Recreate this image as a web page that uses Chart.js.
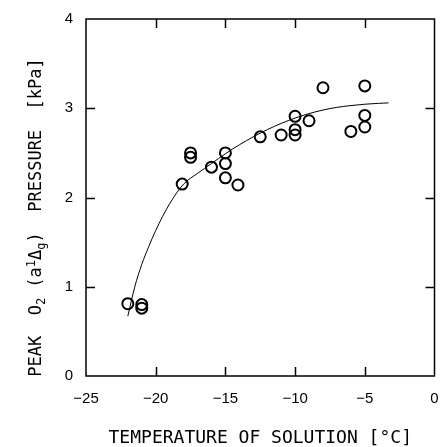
<!DOCTYPE html>
<html><head><meta charset="utf-8">
<script src="https://cdn.jsdelivr.net/npm/chart.js@4/dist/chart.umd.min.js"></script>
<style>html,body{margin:0;padding:0;background:#fff}</style>
</head><body>
<canvas id="c" width="442" height="447"></canvas>
<script>
// Measured points: temperature of solution [°C] and peak O2(a1Δg) pressure [kPa]
const temperature = [-22.0, -21.0, -21.0, -18.1, -17.5, -17.5, -16.0, -15.0, -15.0, -15.0, -14.1, -12.5, -11.0, -10.0, -10.0, -10.0, -9.0, -8.0, -6.0, -5.0, -5.0, -5.0];
const pressure    = [0.81, 0.80, 0.76, 2.15, 2.50, 2.45, 2.34, 2.50, 2.38, 2.22, 2.14, 2.68, 2.70, 2.91, 2.76, 2.70, 2.86, 3.23, 2.74, 3.25, 2.92, 2.79];
// Fitted curve
const fitTemperature = [-22, -21.5, -21, -20.5, -20, -19, -18, -17, -16, -15, -14, -13, -12, -11, -10, -9, -8, -7, -6, -5, -4, -3.3];
const fitPressure    = [0.67, 1.00, 1.25, 1.45, 1.63, 1.93, 2.15, 2.27, 2.38, 2.49, 2.59, 2.68, 2.76, 2.83, 2.89, 2.94, 2.98, 3.01, 3.03, 3.045, 3.055, 3.06];
// Tick labels
const xTickValues = [-25, -20, -15, -10, -5, 0];
const xTickLabels = ['\u221225', '\u221220', '\u221215', '\u221210', '\u22125', '0'];
const yTickValues = [0, 1, 2, 3, 4];
const yTickLabels = ['0', '1', '2', '3', '4'];
// Axis titles
const xTitle = 'TEMPERATURE OF SOLUTION [\u00B0C]';
const yTitleParts = [['PEAK  O', 0], ['2', 1], [' (a', 0], ['1', 2], ['\u0394', 0], ['g', 1], [')  PRESSURE  [kPa]', 0]];

const framePlugin = {
  id: 'frame',
  afterDraw(chart) {
    const {ctx, chartArea: a, scales: {x, y}} = chart;
    ctx.save();
    ctx.strokeStyle = '#000';
    ctx.lineWidth = 1.5;
    ctx.strokeRect(a.left, a.top, a.right - a.left, a.bottom - a.top);
    ctx.beginPath();
    xTickValues.slice(1, -1).forEach(v => {
      const px = Math.round(x.getPixelForValue(v)) + 0.5;
      ctx.moveTo(px, a.bottom); ctx.lineTo(px, a.bottom - 9);
      ctx.moveTo(px, a.top); ctx.lineTo(px, a.top + 9);
    });
    yTickValues.slice(1, -1).forEach(v => {
      const py = Math.round(y.getPixelForValue(v)) + 0.5;
      ctx.moveTo(a.left, py); ctx.lineTo(a.left + 9, py);
      ctx.moveTo(a.right, py); ctx.lineTo(a.right - 9, py);
    });
    ctx.stroke();
    ctx.restore();

    // Y axis title with sub/superscripts, reading bottom to top
    ctx.save();
    const big = '17px "DejaVu Sans Mono"', small = '12px "DejaVu Sans Mono"';
    let total = 0;
    yTitleParts.forEach(([t, k]) => { ctx.font = k ? small : big; total += ctx.measureText(t).width; });
    const cy = 217.5;
    ctx.translate(41, cy);
    ctx.rotate(-Math.PI / 2);
    ctx.fillStyle = '#000';
    ctx.textAlign = 'left';
    ctx.textBaseline = 'alphabetic';
    let cx = -total / 2;
    yTitleParts.forEach(([t, k]) => {
      ctx.font = k ? small : big;
      const dy = k === 1 ? 4 : (k === 2 ? -6 : 0);
      ctx.fillText(t, cx, dy);
      cx += ctx.measureText(t).width;
    });
    ctx.restore();
  }
};

new Chart(document.getElementById('c'), {
  type: 'scatter',
  data: {
    datasets: [
      {
        label: 'fit',
        data: fitTemperature.map((t, i) => ({x: t, y: fitPressure[i]})),
        showLine: true,
        borderColor: '#000',
        borderWidth: 1,
        pointRadius: 0,
        cubicInterpolationMode: 'monotone',
        fill: false
      },
      {
        label: 'measured',
        data: temperature.map((t, i) => ({x: t, y: pressure[i]})),
        pointStyle: 'circle',
        pointRadius: 5.5,
        pointBorderWidth: 2,
        borderColor: '#000',
        backgroundColor: 'rgba(0,0,0,0)',
        showLine: false
      }
    ]
  },
  options: {
    responsive: false,
    animation: false,
    devicePixelRatio: 1,
    layout: {padding: {top: 19, right: 7, left: 0, bottom: 0}},
    plugins: {legend: {display: false}, tooltip: {enabled: false}},
    scales: {
      x: {
        type: 'linear', min: -25, max: 0,
        grid: {display: false, drawTicks: true, tickLength: 14},
        border: {display: false},
        ticks: {
          stepSize: 5, autoSkip: false, maxRotation: 0, padding: 0, color: '#000',
          font: {family: '"Liberation Sans"', size: 15},
          callback: v => { const i = xTickValues.indexOf(v); return i >= 0 ? xTickLabels[i] : ''; }
        },
        title: {display: true, text: xTitle, color: '#000', padding: {top: 0, bottom: 0},
          font: {family: '"DejaVu Sans Mono"', size: 18, lineHeight: 1}},
        afterFit: s => { s.height = 71; }
      },
      y: {
        type: 'linear', min: 0, max: 4,
        grid: {display: false, drawTicks: true, tickLength: 13},
        border: {display: false},
        ticks: {
          stepSize: 1, autoSkip: false, padding: 0, color: '#000',
          font: {family: '"Liberation Sans"', size: 15},
          callback: v => { const i = yTickValues.indexOf(v); return i >= 0 ? yTickLabels[i] : ''; }
        },
        afterFit: s => { s.width = 86; }
      }
    }
  },
  plugins: [framePlugin]
});
</script>
</body></html>
